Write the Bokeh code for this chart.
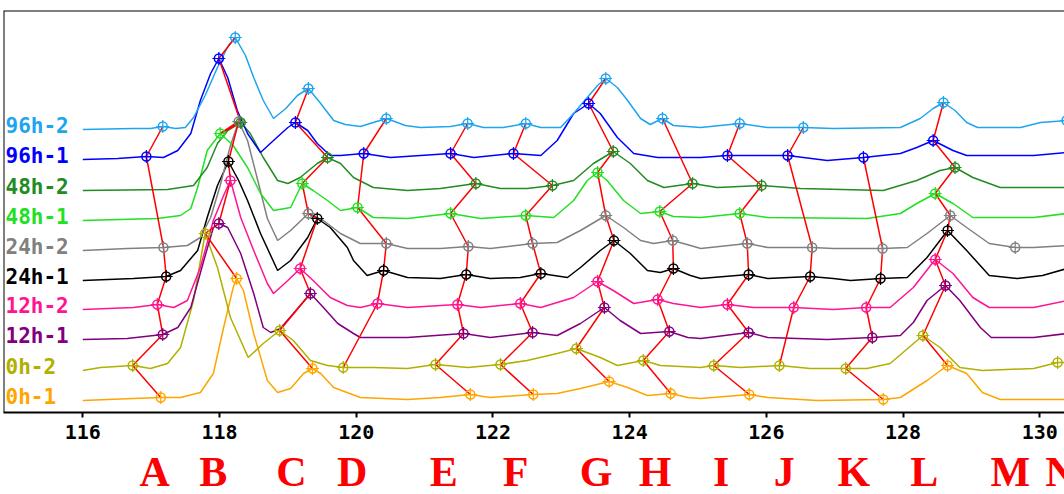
from bokeh.plotting import figure
from bokeh.layouts import column
from bokeh.models import Range1d, Span, ColumnDataSource, FixedTicker
from bokeh.embed import file_html
from bokeh.resources import INLINE
from bokeh.core.properties import value
import numpy as np

# ---- spectra (stacked, each trace measured above its own baseline) ----
trace_names = ["0h-1", "0h-2", "12h-1", "12h-2", "24h-1", "24h-2", "48h-1", "48h-2", "96h-1", "96h-2"]
trace_colors = ["#ffa500", "#b0b000", "#800080", "#ff1493", "#000000",
                "#808080", "#22e022", "#228b22", "#0000ff", "#1ea5f0"]
trace_offsets = [12, 42, 73, 103, 132, 162, 192, 222, 253, 283]

x_0h1 = [116.00, 116.74, 117.14, 117.43, 117.72, 117.91, 118.06, 118.20, 118.25, 118.35, 118.50, 118.70,
         118.85, 119.04, 119.23, 119.36, 119.48, 119.67, 120.06, 120.75, 121.23, 121.67, 121.96, 122.59,
         122.94, 123.28, 123.70, 123.97, 124.26, 124.60, 124.85, 125.04, 125.75, 126.02, 126.74, 127.71,
         127.96, 128.35, 128.65, 128.93, 129.16, 129.42, 130.40]
h_0h1 = [0, 2, 3, 3, 8, 27, 73, 113, 122, 110, 67, 20, 8, 12, 27, 32, 27, 13, 3, 1, 3, 6, 3, 6, 7, 12, 19,
         13, 5, 7, 3, 2, 6, 3, 0, 1, 3, 20, 35, 27, 8, 1, 1]

x_0h2 = [116.00, 116.26, 116.73, 116.99, 117.24, 117.43, 117.62, 117.79, 117.97, 118.16, 118.42, 118.64,
         118.88, 119.08, 119.33, 119.58, 119.81, 120.25, 120.75, 121.16, 121.63, 122.11, 122.50, 122.94,
         123.22, 123.57, 123.82, 124.20, 124.45, 125.04, 125.23, 125.62, 126.19, 126.64, 127.16, 127.47,
         127.81, 128.29, 128.54, 128.83, 129.16, 129.91, 130.26, 130.40]
h_0h2 = [0, 3, 5, 2, 7, 23, 70, 137, 103, 53, 13, 27, 40, 30, 10, 5, 3, 3, 2, 6, 3, 6, 10, 17, 22, 13, 5,
         10, 5, 3, 5, 3, 5, 2, 2, 2, 7, 35, 23, 3, 0, 2, 8, 8]

x_12h1 = [116.00, 116.65, 117.17, 117.39, 117.58, 117.77, 117.91, 117.99, 118.12, 118.31, 118.50, 118.64,
          118.75, 118.89, 119.08, 119.33, 119.52, 119.73, 119.96, 120.06, 120.75, 121.57, 121.96, 122.58,
          122.94, 123.28, 123.63, 123.86, 124.16, 124.58, 124.85, 125.04, 125.74, 126.02, 126.89, 127.55,
          127.96, 128.15, 128.35, 128.62, 128.83, 129.13, 129.29, 129.91, 130.40]
h_12h1 = [0, 1, 5, 12, 32, 79, 112, 116, 112, 86, 46, 12, 7, 11, 26, 46, 32, 16, 6, 2, 2, 6, 2, 7, 4, 16,
          32, 19, 6, 8, 2, 1, 7, 2, 0, 2, 4, 17, 39, 54, 39, 12, 2, 2, 6]

x_12h2 = [116.00, 116.74, 117.09, 117.33, 117.53, 117.72, 117.91, 118.06, 118.16, 118.31, 118.50, 118.70,
          118.79, 119.00, 119.18, 119.37, 119.62, 119.87, 120.06, 120.31, 120.75, 121.48, 121.82, 122.40,
          122.70, 123.18, 123.53, 123.76, 124.06, 124.41, 124.64, 125.04, 125.43, 125.81, 126.40, 126.98,
          127.46, 127.81, 128.15, 128.47, 128.73, 129.02, 129.26, 129.91, 130.40]
h_12h2 = [0, 2, 5, 2, 9, 42, 89, 114, 129, 92, 59, 26, 16, 29, 41, 29, 12, 4, 2, 6, 2, 5, 2, 6, 2, 12, 28,
          19, 6, 10, 6, 2, 5, 2, 2, 0, 2, 2, 22, 50, 36, 12, 2, 2, 9]

x_24h1 = [116.00, 116.74, 117.22, 117.43, 117.68, 117.82, 117.97, 118.13, 118.28, 118.41, 118.60, 118.85,
          119.04, 119.29, 119.43, 119.62, 119.87, 119.96, 120.16, 120.40, 120.75, 121.23, 121.61, 121.96,
          122.40, 122.70, 123.09, 123.28, 123.57, 123.77, 124.01, 124.26, 124.45, 124.64, 124.89, 125.04,
          125.74, 126.02, 126.64, 126.98, 127.23, 127.67, 128.06, 128.35, 128.65, 128.93, 129.26, 129.67,
          130.04, 130.40]
h_24h1 = [0, 2, 4, 10, 30, 63, 95, 119, 100, 80, 47, 10, 20, 43, 62, 53, 33, 20, 5, 10, 3, 2, 6, 2, 3, 7,
          3, 13, 30, 40, 27, 10, 8, 12, 5, 2, 6, 2, 4, 2, 0, 2, 3, 23, 50, 30, 5, 2, 5, 12]

x_24h2 = [116.00, 116.65, 117.18, 117.53, 117.72, 117.87, 118.01, 118.16, 118.28, 118.41, 118.56, 118.70,
          118.85, 119.04, 119.30, 119.52, 119.77, 120.06, 120.44, 120.75, 121.23, 121.64, 121.96, 122.58,
          122.94, 123.28, 123.65, 123.91, 124.16, 124.35, 124.63, 124.89, 125.04, 125.72, 126.02, 126.67,
          126.98, 127.70, 128.06, 128.35, 128.69, 128.93, 129.26, 129.64, 129.91, 130.40]
h_24h2 = [0, 2, 3, 5, 13, 33, 65, 105, 129, 110, 70, 32, 10, 20, 37, 30, 17, 7, 7, 2, 2, 4, 2, 7, 8, 20,
          35, 23, 10, 7, 10, 5, 2, 7, 3, 3, 2, 2, 3, 17, 35, 23, 7, 3, 3, 5]

x_48h1 = [116.00, 117.09, 117.43, 117.58, 117.68, 117.82, 118.01, 118.20, 118.41, 118.60, 118.79, 119.04,
          119.21, 119.37, 119.58, 119.77, 120.02, 120.25, 120.75, 121.38, 121.82, 122.48, 122.89, 123.18,
          123.38, 123.53, 123.67, 123.91, 124.16, 124.44, 124.64, 125.04, 125.61, 126.02, 127.47, 127.96,
          128.20, 128.47, 128.73, 129.02, 129.91, 130.40]
h_48h1 = [0, 2, 5, 12, 33, 70, 87, 75, 53, 27, 10, 13, 37, 30, 20, 10, 13, 3, 2, 7, 2, 5, 3, 20, 40, 48,
          40, 20, 7, 9, 4, 3, 7, 3, 2, 7, 17, 27, 17, 3, 3, 7]

x_48h2 = [116.00, 117.24, 117.62, 117.82, 117.97, 118.12, 118.31, 118.45, 118.64, 118.85, 119.00, 119.18,
          119.43, 119.58, 119.77, 119.96, 120.25, 120.75, 121.23, 121.75, 122.11, 122.50, 122.87, 123.18,
          123.47, 123.76, 124.01, 124.26, 124.50, 124.92, 125.28, 125.93, 126.50, 127.71, 128.20, 128.54,
          128.76, 129.02, 129.42, 130.40]
h_48h2 = [0, 1, 5, 23, 47, 60, 68, 57, 33, 10, 7, 13, 27, 33, 27, 13, 3, 0, 2, 7, 2, 2, 5, 10, 27, 39, 27,
          10, 3, 7, 3, 5, 2, 0, 10, 20, 23, 13, 3, 3]

x_96h1 = [116.00, 116.51, 116.93, 117.18, 117.39, 117.58, 117.72, 117.87, 117.99, 118.12, 118.26, 118.41,
          118.60, 118.79, 119.00, 119.11, 119.29, 119.43, 119.62, 119.77, 120.11, 120.50, 121.38, 121.72,
          122.30, 122.70, 122.94, 123.18, 123.40, 123.57, 123.82, 124.06, 124.41, 125.04, 125.43, 126.31,
          126.89, 127.42, 127.96, 128.20, 128.44, 128.73, 128.93, 129.91, 130.40]
h_96h1 = [0, 1, 3, 2, 9, 26, 59, 86, 101, 82, 49, 26, 7, 19, 32, 37, 29, 16, 4, 4, 6, 2, 6, 2, 6, 4, 19,
          46, 56, 46, 22, 6, 2, 2, 4, 4, -1, 2, 6, 12, 19, 9, 4, 4, 7]

x_96h2 = [116.00, 116.74, 116.99, 117.17, 117.36, 117.50, 117.62, 117.79, 117.97, 118.13, 118.23, 118.38,
          118.50, 118.64, 118.79, 118.97, 119.14, 119.30, 119.48, 119.67, 119.84, 120.06, 120.44, 120.72,
          120.94, 121.38, 121.63, 121.86, 122.15, 122.48, 122.70, 122.99, 123.18, 123.38, 123.53, 123.65,
          123.82, 123.97, 124.16, 124.30, 124.48, 124.64, 125.04, 125.61, 126.02, 126.54, 126.98, 127.96,
          128.25, 128.44, 128.59, 128.76, 128.93, 129.09, 129.72, 130.01, 130.39]
h_96h2 = [0, 1, 1, 3, 1, 2, 12, 34, 62, 84, 92, 74, 52, 29, 11, 21, 34, 41, 26, 9, 5, 3, 11, 4, 2, 3, 6,
          2, 2, 6, 2, 2, 16, 32, 44, 51, 42, 29, 11, 5, 11, 4, 2, 6, 2, 2, 1, 2, 11, 21, 27, 19, 7, 2, 2,
          7, 9]

traces_x = [x_0h1, x_0h2, x_12h1, x_12h2, x_24h1, x_24h2, x_48h1, x_48h2, x_96h1, x_96h2]
traces_h = [h_0h1, h_0h2, h_12h1, h_12h2, h_24h1, h_24h2, h_48h1, h_48h2, h_96h1, h_96h2]

# ---- assigned peak positions, one entry per trace (0h-1 ... 96h-2) ----
peak_letters = list("ABCDEFGHIJKLMN")
peak_A = [117.14, 116.73, 117.17, 117.09, 117.22, 117.18, None, None, 116.93, 117.17]
peak_B = [118.25, 117.79, 117.99, 118.16, 118.13, 118.28, 118.01, 118.31, 117.99, 118.23]
peak_C = [119.36, 118.88, 119.33, 119.18, 119.43, 119.30, 119.21, 119.58, 119.11, 119.30]
peak_D = [None, 119.81, None, 120.31, 120.40, 120.44, 120.02, None, 120.11, 120.44]
peak_E = [121.67, 121.16, 121.57, 121.48, 121.61, 121.64, 121.38, 121.75, 121.38, 121.63]
peak_F = [122.59, 122.11, 122.58, 122.40, 122.70, 122.58, 122.48, 122.87, 122.30, 122.48]
peak_G = [123.70, 123.22, 123.63, 123.53, 123.77, 123.65, 123.53, 123.76, 123.40, 123.65]
peak_H = [124.60, 124.20, 124.58, 124.41, 124.64, 124.63, 124.44, 124.92, None, 124.48]
peak_I = [125.75, 125.23, 125.74, 125.43, 125.74, 125.72, 125.61, 125.93, 125.43, 125.61]
peak_J = [None, 126.19, None, 126.40, 126.64, 126.67, None, None, 126.31, 126.54]
peak_K = [127.71, 127.16, 127.55, 127.46, 127.67, 127.70, None, None, 127.42, None]
peak_L = [128.65, 128.29, 128.62, 128.47, 128.65, 128.69, 128.47, 128.76, 128.44, 128.59]
peak_M = [None, 130.26, None, None, None, 129.64, None, None, None, None]
peak_N = [None, None, None, None, None, None, None, None, None, 130.39]
peaks = [peak_A, peak_B, peak_C, peak_D, peak_E, peak_F, peak_G,
         peak_H, peak_I, peak_J, peak_K, peak_L, peak_M, peak_N]
linked_letters = "ABCDEFGHIJKL"

# positions of the letter captions under the axis
letter_x = [117.05, 117.91, 119.05, 119.94, 121.28, 122.33, 123.51,
            124.37, 125.34, 126.26, 127.28, 128.31, 129.57, 130.30]

tick_values = [116, 118, 120, 122, 124, 126, 128, 130]

X0, X1 = 114.840, 130.361

p = figure(width=1064, height=448,
           x_range=Range1d(X0, X1), y_range=Range1d(0, 402),
           min_border_left=3, min_border_right=0, min_border_top=10, min_border_bottom=36,
           y_axis_location=None, toolbar_location=None, output_backend="svg")
p.outline_line_color = None
p.grid.visible = False
p.background_fill_color = "white"
p.border_fill_color = "white"

# frame edges on the left and top
p.add_layout(Span(location=X0, dimension="height", line_color="black", line_width=2))
p.add_layout(Span(location=402, dimension="width", line_color="black", line_width=2))

ax = p.xaxis[0]
ax.ticker = FixedTicker(ticks=tick_values)
ax.axis_line_width = 2
ax.axis_line_color = "black"
ax.major_tick_line_width = 2
ax.major_tick_in = 0
ax.major_tick_out = 5
ax.minor_tick_line_color = None
ax.major_label_standoff = 7
ax.major_label_text_font = "DejaVu Sans Mono"
ax.major_label_text_font_style = "bold"
ax.major_label_text_font_size = "20px"
ax.major_label_text_color = "black"

# traces
for xs, hs, off, col in zip(traces_x, traces_h, trace_offsets, trace_colors):
    p.line(np.array(xs), np.array(hs) + off, line_color=col, line_width=1.5)

# peak markers located on each trace
mk_x, mk_y, mk_c = [], [], []
tracks = {}
for letter, pos in zip(peak_letters, peaks):
    pts = []
    for i, px in enumerate(pos):
        if px is None:
            continue
        py = float(np.interp(px, traces_x[i], traces_h[i])) + trace_offsets[i]
        pts.append((px, py))
        mk_x.append(px)
        mk_y.append(py)
        mk_c.append(trace_colors[i])
    tracks[letter] = pts

# red lines following each peak through the series
xs_l, ys_l = [], []
for letter in linked_letters:
    pts = tracks[letter]
    xs_l.append([q[0] for q in pts])
    ys_l.append([q[1] for q in pts])
p.multi_line(xs_l, ys_l, line_color="#ff0000", line_width=1.5)

src = ColumnDataSource(dict(x=mk_x, y=mk_y, c=mk_c))
p.scatter("x", "y", source=src, marker="circle", size=9, fill_color=None,
          line_color="c", line_width=1.5)
p.scatter("x", "y", source=src, marker="cross", size=13, line_color="c", line_width=1.2)

# series names at the start of each baseline
p.text(x=[114.87] * len(trace_names), y=[o + 4 for o in trace_offsets], text=trace_names,
       text_color=trace_colors, text_font=value("DejaVu Sans Mono"), text_font_style="bold",
       text_font_size="21px", text_baseline="middle", text_align="left")

# strip with the peak letters, sharing the x scale
q = figure(width=1064, height=46, x_range=p.x_range, y_range=Range1d(0, 46),
           min_border_left=3, min_border_right=0, min_border_top=0, min_border_bottom=0,
           x_axis_location=None, y_axis_location=None, toolbar_location=None,
           output_backend="svg")
q.outline_line_color = None
q.grid.visible = False
q.text(x=letter_x, y=[23] * len(letter_x), text=peak_letters, text_color="#ff0000",
       text_font=value("Liberation Serif"), text_font_style="bold", text_font_size="42px",
       text_align="center", text_baseline="middle")

layout = column(p, q, spacing=0)
open("out.html", "w").write(file_html(layout, INLINE))
